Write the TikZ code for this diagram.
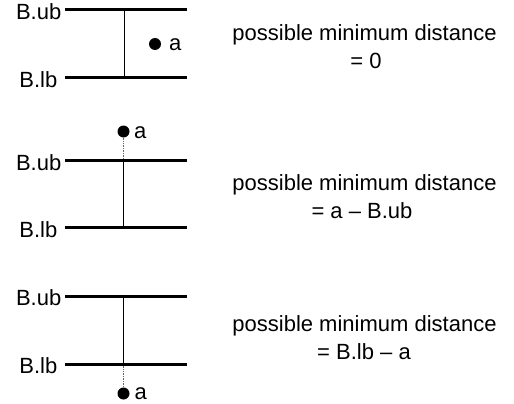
\documentclass[tikz,border=0pt]{standalone}
\usepackage{fontspec}
\setmainfont{Liberation Sans}
\begin{document}
\begin{tikzpicture}[x=1pt,y=-1pt,
  bound/.style={line width=3pt},
  vline/.style={line width=0.8pt},
  dotline/.style={line width=0.7pt,densely dotted,black!60},
  ptdot/.style={circle,fill=black,inner sep=0pt,minimum size=12pt},
  lbl/.style={font=\fontsize{22}{26}\selectfont,inner sep=0pt},
  txt/.style={font=\fontsize{22}{26}\selectfont,inner sep=0pt,anchor=base}]
\useasboundingbox (0,0) rectangle (514,404);
% panel 1
\coordinate (u1l) at (65,9.5); \coordinate (u1r) at (187,9.5);
\coordinate (l1l) at (65,77.3); \coordinate (l1r) at (187,77.3);
\coordinate (u1m) at (124,9.5); \coordinate (l1m) at (124,77.3);
\node[lbl,anchor=east] (ub1) at (61.5,11.5) {B.ub};
\node[lbl,anchor=east] (lb1) at (57.5,79.3) {B.lb};
\draw[bound] (u1l) -- (u1r);
\draw[bound] (l1l) -- (l1r);
\draw[vline] (u1m) -- (l1m);
\node[ptdot] (a1) at (155,44) {};
\node[lbl,anchor=west] (la1) at (169,45) {a};
\node[txt] (t1a) at (364.5,40.7) {possible minimum distance};
\node[txt] (t1b) at (366,68.3) {= 0};
% panel 2
\coordinate (u2l) at (65,160.5); \coordinate (u2r) at (187,160.5);
\coordinate (l2l) at (65,227.5); \coordinate (l2r) at (187,227.5);
\coordinate (u2m) at (123.5,160.5); \coordinate (l2m) at (123.5,227.5);
\node[lbl,anchor=east] (ub2) at (61.5,162.5) {B.ub};
\node[lbl,anchor=east] (lb2) at (57.5,229.5) {B.lb};
\node[ptdot] (a2) at (123.5,131.5) {};
\node[lbl,anchor=west] (la2) at (134,132.5) {a};
\draw[dotline] (a2) -- (u2m);
\draw[bound] (u2l) -- (u2r);
\draw[bound] (l2l) -- (l2r);
\draw[vline] (u2m) -- (l2m);
\node[txt] (t2a) at (364.5,190.7) {possible minimum distance};
\node[txt] (t2b) at (362,218.3) {= a – B.ub};
% panel 3
\coordinate (u3l) at (65,296); \coordinate (u3r) at (187,296);
\coordinate (l3l) at (65,364); \coordinate (l3r) at (187,364);
\coordinate (u3m) at (123.5,296); \coordinate (l3m) at (123.5,364);
\node[lbl,anchor=east] (ub3) at (61.5,298) {B.ub};
\node[lbl,anchor=east] (lb3) at (57.5,366) {B.lb};
\node[ptdot] (a3) at (123.5,393.5) {};
\node[lbl,anchor=west] (la3) at (134.5,393.5) {a};
\draw[dotline] (l3m) -- (a3);
\draw[bound] (u3l) -- (u3r);
\draw[bound] (l3l) -- (l3r);
\draw[vline] (u3m) -- (l3m);
\node[txt] (t3a) at (364.5,331.5) {possible minimum distance};
\node[txt] (t3b) at (364,359.3) {= B.lb – a};
\end{tikzpicture}
\end{document}
